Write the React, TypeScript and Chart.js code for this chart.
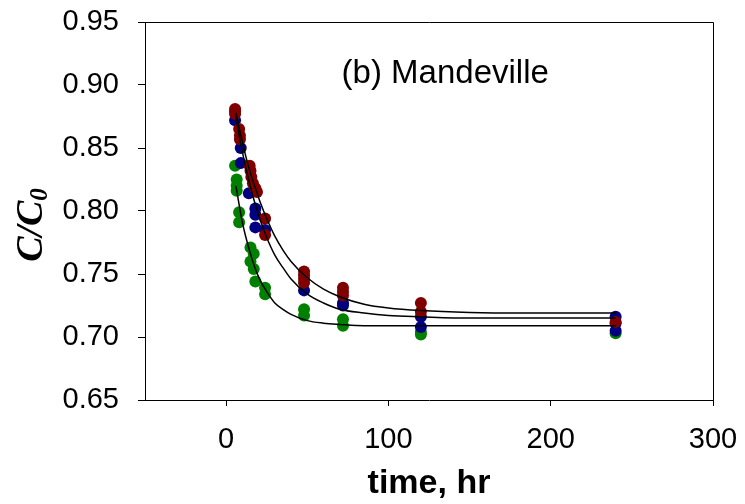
import React, { useEffect, useRef } from "react";
import { Chart, registerables } from "chart.js";

Chart.register(...registerables);

// Measured points (time in hr, C/C0)
const redTime = [5.5, 5.5, 5.5, 8, 8.5, 8.5, 14.5, 15, 15.5, 16.5, 18, 19, 24, 24, 48, 48, 48, 48, 72, 72, 72, 120, 120, 240];
const redValue = [0.881, 0.879, 0.877, 0.865, 0.860, 0.857, 0.836, 0.832, 0.827, 0.822, 0.818, 0.815, 0.794, 0.781, 0.752, 0.749, 0.746, 0.743, 0.739, 0.736, 0.733, 0.727, 0.720, 0.712];

const blueTime = [5.5, 9, 9, 14, 18, 18, 18, 24, 48, 72, 72, 120, 120, 240, 240, 240];
const blueValue = [0.872, 0.850, 0.838, 0.814, 0.802, 0.797, 0.787, 0.785, 0.737, 0.727, 0.725, 0.716, 0.708, 0.716, 0.711, 0.705];

const greenTime = [5.5, 6.5, 6.5, 6.5, 8, 8, 15, 17, 15, 17, 18, 24, 24, 48, 48, 72, 72, 120, 120, 240];
const greenValue = [0.836, 0.825, 0.820, 0.816, 0.799, 0.791, 0.771, 0.766, 0.760, 0.754, 0.744, 0.739, 0.734, 0.722, 0.717, 0.714, 0.709, 0.704, 0.702, 0.703];

// Fitted curves
const curveTime = [6, 8, 10, 12, 15, 18, 21, 25, 30, 35, 40, 50, 60, 70, 85, 100, 120, 150, 180, 210, 240];
const redCurve = [0.878, 0.866, 0.855, 0.844, 0.830, 0.818, 0.807, 0.794, 0.780, 0.769, 0.760, 0.747, 0.738, 0.732, 0.726, 0.723, 0.721, 0.7195, 0.719, 0.719, 0.719];
const blueCurve = [0.875, 0.860, 0.847, 0.835, 0.819, 0.805, 0.793, 0.779, 0.765, 0.755, 0.746, 0.734, 0.727, 0.722, 0.719, 0.717, 0.716, 0.715, 0.715, 0.715, 0.715];
const greenCurve = [0.820, 0.805, 0.791, 0.780, 0.766, 0.754, 0.745, 0.736, 0.727, 0.722, 0.718, 0.713, 0.711, 0.710, 0.709, 0.709, 0.709, 0.709, 0.709, 0.709, 0.709];

const xTicks = [0, 100, 200, 300];
const yTicks = [0.65, 0.7, 0.75, 0.8, 0.85, 0.9, 0.95];

const annotationText = "(b) Mandeville";
const xTitle = "time, hr";

const pts = (t: number[], v: number[]) => t.map((x, i) => ({ x, y: v[i] }));

export default function App() {
  const ref = useRef<HTMLCanvasElement>(null);
  useEffect(() => {
    if (!ref.current) return;
    const labelFont = "Liberation Sans, Arial, sans-serif";
    const serif = "'Liberation Serif', 'Times New Roman', serif";
    const overlay = {
      id: "overlay",
      afterDraw(chart: any) {
        const ctx = chart.ctx;
        const xs = chart.scales.x;
        const ys = chart.scales.y;
        ctx.save();
        ctx.fillStyle = "#000";
        ctx.font = `33px ${labelFont}`;
        ctx.textAlign = "center";
        ctx.textBaseline = "middle";
        ctx.fillText(annotationText, xs.getPixelForValue(135), ys.getPixelForValue(0.909));
        // y-axis title C/C0
        ctx.translate(32, 225);
        ctx.rotate(-Math.PI / 2);
        ctx.textBaseline = "middle";
        const main = "C/C";
        const sub = "0";
        ctx.font = `bold italic 38px ${serif}`;
        const wMain = ctx.measureText(main).width;
        ctx.font = `bold italic 25px ${serif}`;
        const wSub = ctx.measureText(sub).width;
        const total = wMain + wSub;
        ctx.textAlign = "left";
        ctx.font = `bold italic 38px ${serif}`;
        ctx.fillText(main, -total / 2, 0);
        ctx.font = `bold italic 25px ${serif}`;
        ctx.fillText(sub, -total / 2 + wMain, 9);
        ctx.restore();
      },
    };
    const scatter = (label: string, t: number[], v: number[], color: string, order: number) => ({
      type: "scatter" as const,
      label,
      data: pts(t, v),
      backgroundColor: color,
      borderColor: color,
      pointRadius: 6,
      pointBorderWidth: 0,
      showLine: false,
      order,
    });
    const curve = (label: string, v: number[]) => ({
      type: "line" as const,
      label,
      data: pts(curveTime, v),
      borderColor: "#000",
      borderWidth: 1.5,
      pointRadius: 0,
      fill: false,
      cubicInterpolationMode: "monotone" as const,
      order: 0,
    });
    const chart = new Chart(ref.current, {
      type: "scatter",
      data: {
        datasets: [
          curve("red fit", redCurve),
          curve("blue fit", blueCurve),
          curve("green fit", greenCurve),
          scatter("red", redTime, redValue, "rgb(128,0,0)", 1),
          scatter("blue", blueTime, blueValue, "rgb(0,0,128)", 2),
          scatter("green", greenTime, greenValue, "rgb(0,128,0)", 3),
        ] as any,
      },
      options: {
        responsive: false,
        animation: false,
        layout: { padding: { top: 22, right: 32, left: 0, bottom: 0 } },
        plugins: { legend: { display: false }, tooltip: { enabled: false } },
        scales: {
          x: {
            type: "linear",
            min: -50,
            max: 300,
            afterFit: (s: any) => {
              s.height = 104;
              s.paddingLeft = 0;
              s.paddingRight = 0;
            },
            afterBuildTicks: (s: any) => { s.ticks = xTicks.map((v) => ({ value: v })); },
            border: { display: true, color: "#000", width: 1 },
            grid: { drawOnChartArea: false, color: "#000", tickLength: 6, tickWidth: 1 },
            ticks: { color: "#000", font: { family: labelFont, size: 29 }, padding: 17, maxRotation: 0 },
            title: {
              display: true,
              text: xTitle,
              color: "#000",
              font: { family: labelFont, size: 34, weight: "bold" },
              padding: { top: 0, bottom: 0 },
            },
          },
          y: {
            type: "linear",
            min: 0.65,
            max: 0.95,
            afterFit: (s: any) => {
              s.width = 145;
              s.paddingTop = 0;
              s.paddingBottom = 0;
            },
            afterBuildTicks: (s: any) => { s.ticks = yTicks.map((v) => ({ value: v })); },
            border: { display: true, color: "#000", width: 1 },
            grid: { drawOnChartArea: false, color: "#000", tickLength: 7, tickWidth: 1 },
            ticks: {
              color: "#000",
              font: { family: labelFont, size: 29 },
              padding: 19,
              callback: (v: any) => Number(v).toFixed(2),
            },
          },
        },
      },
      plugins: [
        overlay,
        {
          id: "frame",
          afterDatasetsDraw(chart: any) {
            const { ctx, chartArea } = chart;
            ctx.save();
            ctx.strokeStyle = "#000";
            ctx.lineWidth = 1;
            ctx.beginPath();
            ctx.moveTo(chartArea.left, chartArea.top + 0.5);
            ctx.lineTo(chartArea.right + 0.5, chartArea.top + 0.5);
            ctx.lineTo(chartArea.right + 0.5, chartArea.bottom);
            ctx.stroke();
            ctx.restore();
          },
        },
      ],
    } as any);
    return () => chart.destroy();
  }, []);
  return (
    <div style={{ position: "absolute", left: 0, top: 0, width: 745, height: 504 }}>
      <canvas ref={ref} width={745} height={504} />
    </div>
  );
}
